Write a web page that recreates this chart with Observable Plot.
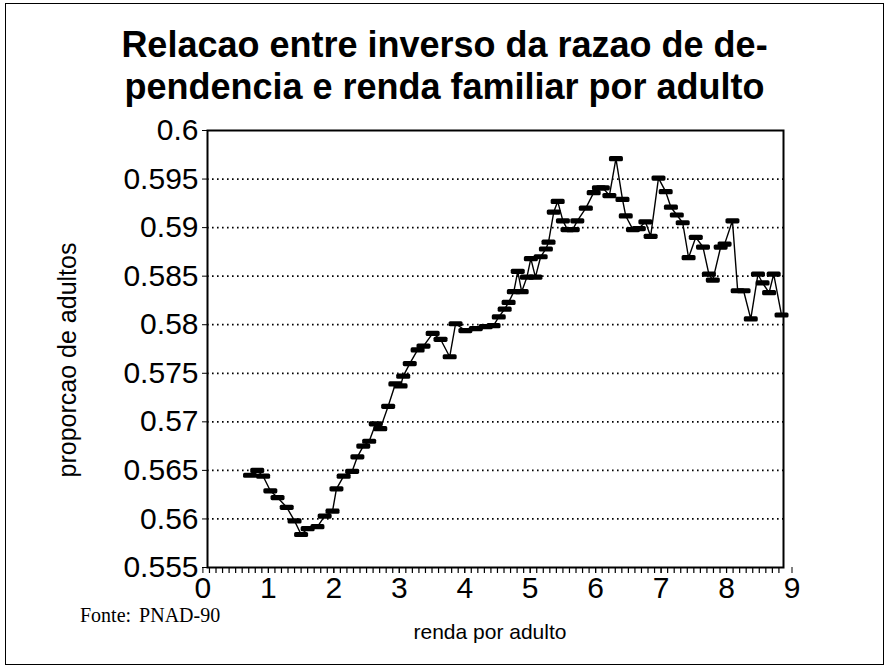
<!DOCTYPE html>
<html><head><meta charset="utf-8">
<script src="https://cdn.jsdelivr.net/npm/d3@7"></script>
<script src="https://cdn.jsdelivr.net/npm/@observablehq/plot@0.6"></script>
<style>
body{margin:0;background:#fff;}
#wrap{position:relative;width:889px;height:672px;overflow:hidden;background:#fff;}
#chart{position:absolute;left:0;top:0;}
#border{position:absolute;left:5px;top:3px;width:879px;height:662px;border:1.5px solid #000;box-sizing:border-box;pointer-events:none;}
.title{position:absolute;left:0;width:889px;text-align:center;font:bold 36px "Liberation Sans",Arial,sans-serif;line-height:42px;color:#000;}
#ylab{position:absolute;left:-82px;top:345px;width:300px;height:30px;line-height:30px;text-align:center;transform:rotate(-90deg);font:25px "Liberation Sans",Arial,sans-serif;color:#000;}
#xlab{position:absolute;left:340px;top:618px;width:300px;text-align:center;font:21px "Liberation Sans",Arial,sans-serif;line-height:28px;color:#000;}
#fonte{position:absolute;left:80px;top:604px;font:20px "Liberation Serif","Times New Roman",serif;word-spacing:3px;line-height:22px;color:#000;}
</style>
</head><body>
<div id="wrap">
<div id="chart"></div>
<div class="title" style="top:24px">Relacao entre inverso da razao de de-</div>
<div class="title" style="top:66px">pendencia e renda familiar por adulto</div>
<div id="ylab">proporcao de adultos</div>
<div id="xlab">renda por adulto</div>
<div id="fonte">Fonte: PNAD-90</div>
<div id="border"></div>
</div>
<script>
const renda = [0.72,0.83,0.92,1.03,1.14,1.28,1.40,1.50,1.60,1.75,
1.86,1.98,2.04,2.15,2.28,2.36,2.45,2.54,2.64,2.71,
2.83,2.94,3.02,3.06,3.16,3.28,3.37,3.51,3.63,3.77,
3.86,4.01,4.17,4.32,4.44,4.52,4.61,4.67,4.75,4.81,
4.87,4.95,5.01,5.08,5.16,5.24,5.28,5.36,5.42,5.50,
5.57,5.65,5.72,5.85,5.97,6.05,6.11,6.21,6.31,6.41,
6.46,6.57,6.66,6.76,6.84,6.96,7.07,7.15,7.24,7.33,
7.42,7.53,7.64,7.73,7.79,7.91,7.97,8.09,8.17,8.26,
8.37,8.48,8.55,8.65,8.72,8.84];
const proporcao = [0.5645,0.5650,0.5644,0.5629,0.5622,0.5612,0.5598,0.5584,0.5590,0.5592,
0.5603,0.5608,0.5631,0.5644,0.5649,0.5664,0.5675,0.5680,0.5698,0.5693,
0.5716,0.5739,0.5737,0.5747,0.5760,0.5774,0.5778,0.5791,0.5785,0.5767,
0.5801,0.5794,0.5796,0.5798,0.5799,0.5808,0.5816,0.5823,0.5834,0.5855,
0.5834,0.5849,0.5868,0.5849,0.5870,0.5878,0.5885,0.5916,0.5927,0.5907,
0.5898,0.5898,0.5907,0.5920,0.5936,0.5941,0.5941,0.5933,0.5971,0.5929,
0.5912,0.5898,0.5899,0.5906,0.5891,0.5951,0.5937,0.5921,0.5913,0.5905,
0.5869,0.5890,0.5880,0.5852,0.5846,0.5880,0.5883,0.5907,0.5835,0.5835,
0.5806,0.5852,0.5843,0.5833,0.5852,0.5810];
const yTicks = [0.555,0.56,0.565,0.57,0.575,0.58,0.585,0.59,0.595,0.6];
const yGrid = [0.56,0.565,0.57,0.575,0.58,0.585,0.59,0.595];
const xTickLabels = [0,1,2,3,4,5,6,7,8,9];

const data = renda.map((x,i)=>({x, y: proporcao[i]}));
const minor = d3.range(1, 89).map(i => i/10);

const W = 889, H = 672, MT = 130, MB = 105, ML = 207, MR = 106;
const frameH = H - MT - MB;

const dash = {draw(ctx){ const w=7, h=2.6, r=1.6;
  ctx.moveTo(-w+r,-h); ctx.lineTo(w-r,-h); ctx.quadraticCurveTo(w,-h,w,-h+r);
  ctx.lineTo(w,h-r); ctx.quadraticCurveTo(w,h,w-r,h); ctx.lineTo(-w+r,h);
  ctx.quadraticCurveTo(-w,h,-w,h-r); ctx.lineTo(-w,-h+r); ctx.quadraticCurveTo(-w,-h,-w+r,-h); ctx.closePath(); }};

const chart = Plot.plot({
  width: W, height: H,
  marginTop: MT, marginBottom: MB, marginLeft: ML, marginRight: MR,
  style: {fontFamily: "'Liberation Sans', Arial, sans-serif", fontSize: "30px", color: "#000", background: "transparent", overflow: "visible"},
  x: {domain: [0.07, 8.87], ticks: xTickLabels, tickSize: 6, tickPadding: 3,
      tickFormat: d => String(d), label: null},
  y: {domain: [0.555, 0.6], ticks: yTicks, tickSize: 5, tickPadding: 4,
      tickFormat: d => String(+d.toFixed(3)), label: null},
  marks: [
    Plot.ruleY(yGrid, {stroke: "#000", strokeWidth: 1.7, strokeDasharray: "1.6,3.4"}),
    Plot.tickX(minor, {x: d => d, stroke: "#000", strokeWidth: 1.2, insetTop: frameH, insetBottom: -6}),
    Plot.frame({stroke: "#000", strokeWidth: 2}),
    Plot.line(data, {x: "x", y: "y", stroke: "#000", strokeWidth: 1.4}),
    Plot.dot(data, {x: "x", y: "y", symbol: dash, fill: "#000", stroke: "none", r: 4})
  ]
});
document.getElementById("chart").appendChild(chart);
</script>
</body></html>
